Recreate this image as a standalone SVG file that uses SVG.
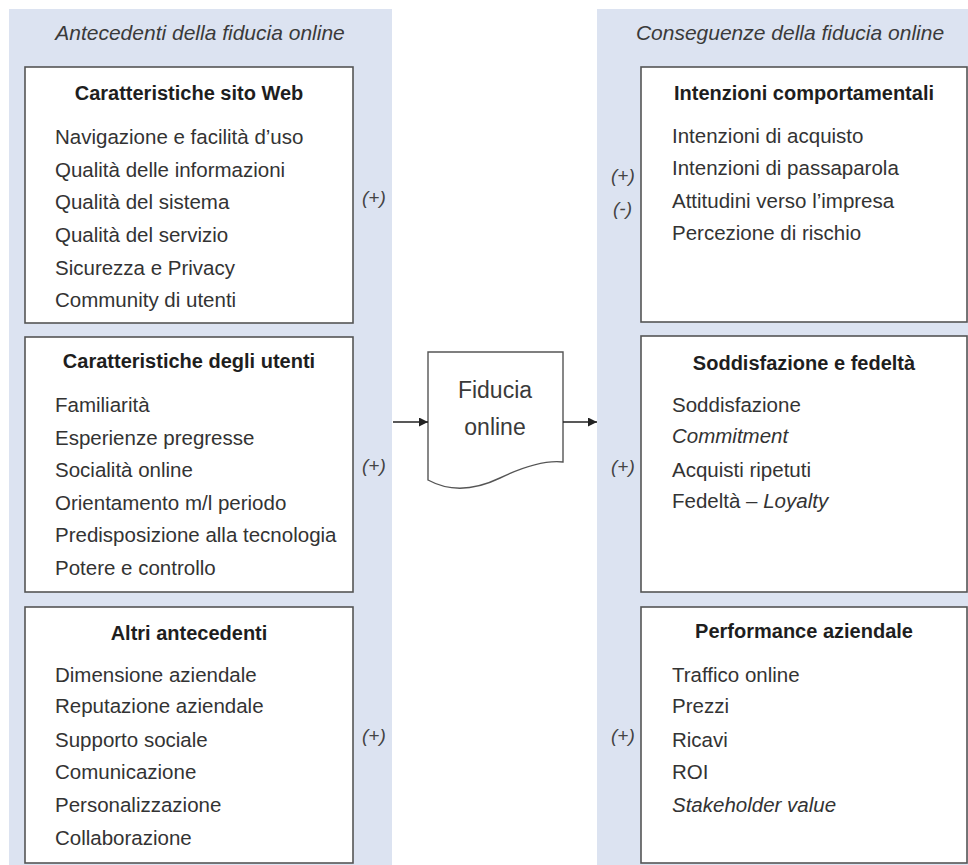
<svg xmlns="http://www.w3.org/2000/svg" width="968" height="865" viewBox="0 0 968 865">
  <defs>
    <marker id="arrow" viewBox="0 0 10 10" refX="10" refY="5" markerWidth="9" markerHeight="9" markerUnits="userSpaceOnUse" orient="auto">
      <path d="M0,0 L10,5 L0,10 Z" fill="#222"/>
    </marker>
    <style>
      text { font-family: "Liberation Sans", Arial, sans-serif; fill: #333; }
      .panel { fill: #dce3f1; }
      .box { fill: #ffffff; stroke: #555; stroke-width: 1.6; }
      .head { font-size: 21px; font-style: italic; fill: #3a3a3a; text-anchor: middle; }
      .title { font-size: 20px; font-weight: bold; fill: #1e1e1e; text-anchor: middle; }
      .item { font-size: 20.5px; }
      .sign { font-size: 19px; font-style: italic; fill: #444; }
      .doc { fill: #ffffff; stroke: #555; stroke-width: 1.4; }
      .doctext { font-size: 23px; text-anchor: middle; fill: #3a3a3a; }
      .conn { stroke: #222; stroke-width: 1.4; fill: none; marker-end: url(#arrow); }
    </style>
  </defs>

  <rect width="968" height="865" fill="#ffffff"/>

  <!-- background panels -->
  <rect class="panel" x="9" y="9" width="383" height="856"/>
  <rect class="panel" x="597" y="9" width="371" height="856"/>
  <text class="head" x="200" y="40">Antecedenti della fiducia online</text>
  <text class="head" x="790" y="40">Conseguenze della fiducia online</text>

  <!-- antecedents -->
  <g id="sito-web">
    <rect class="box" x="25" y="67" width="328" height="256"/>
    <text class="title" x="189" y="100">Caratteristiche sito Web</text>
    <text class="item" x="55" y="144">Navigazione e facilità d’uso</text>
    <text class="item" x="55" y="177">Qualità delle informazioni</text>
    <text class="item" x="55" y="209">Qualità del sistema</text>
    <text class="item" x="55" y="242">Qualità del servizio</text>
    <text class="item" x="55" y="275">Sicurezza e Privacy</text>
    <text class="item" x="55" y="307">Community di utenti</text>
    <text class="sign" x="362" y="204">(+)</text>
  </g>

  <g id="utenti">
    <rect class="box" x="25" y="337" width="328" height="255"/>
    <text class="title" x="189" y="368">Caratteristiche degli utenti</text>
    <text class="item" x="55" y="412">Familiarità</text>
    <text class="item" x="55" y="445">Esperienze pregresse</text>
    <text class="item" x="55" y="477">Socialità online</text>
    <text class="item" x="55" y="510">Orientamento m/l periodo</text>
    <text class="item" x="55" y="542">Predisposizione alla tecnologia</text>
    <text class="item" x="55" y="575">Potere e controllo</text>
    <text class="sign" x="362" y="472">(+)</text>
  </g>

  <g id="altri">
    <rect class="box" x="25" y="607" width="328" height="256"/>
    <text class="title" x="189" y="640">Altri antecedenti</text>
    <text class="item" x="55" y="682">Dimensione aziendale</text>
    <text class="item" x="55" y="713">Reputazione aziendale</text>
    <text class="item" x="55" y="747">Supporto sociale</text>
    <text class="item" x="55" y="779">Comunicazione</text>
    <text class="item" x="55" y="812">Personalizzazione</text>
    <text class="item" x="55" y="845">Collaborazione</text>
    <text class="sign" x="362" y="742">(+)</text>
  </g>

  <!-- central document -->
  <g id="fiducia">
    <path class="doc" d="M428,352 H563 V462 C545,460 525,466 500,478 C475,490 450,492 428,480 Z"/>
    <text class="doctext" x="495" y="398">Fiducia</text>
    <text class="doctext" x="495" y="435">online</text>
  </g>

  <!-- consequences -->
  <g id="intenzioni">
    <rect class="box" x="641" y="67" width="326" height="255"/>
    <text class="title" x="804" y="100">Intenzioni comportamentali</text>
    <text class="item" x="672" y="143">Intenzioni di acquisto</text>
    <text class="item" x="672" y="175">Intenzioni di passaparola</text>
    <text class="item" x="672" y="208">Attitudini verso l’impresa</text>
    <text class="item" x="672" y="240">Percezione di rischio</text>
    <text class="sign" x="611" y="182">(+)</text>
    <text class="sign" x="613" y="215">(-)</text>
  </g>

  <g id="soddisfazione">
    <rect class="box" x="641" y="336" width="326" height="256"/>
    <text class="title" x="804" y="370">Soddisfazione e fedeltà</text>
    <text class="item" x="672" y="412">Soddisfazione</text>
    <text class="item" x="672" y="443" font-style="italic">Commitment</text>
    <text class="item" x="672" y="477">Acquisti ripetuti</text>
    <text class="item" x="672" y="508">Fedeltà – <tspan font-style="italic">Loyalty</tspan></text>
    <text class="sign" x="611" y="473">(+)</text>
  </g>

  <g id="performance">
    <rect class="box" x="641" y="607" width="326" height="256"/>
    <text class="title" x="804" y="638">Performance aziendale</text>
    <text class="item" x="672" y="682">Traffico online</text>
    <text class="item" x="672" y="713">Prezzi</text>
    <text class="item" x="672" y="747">Ricavi</text>
    <text class="item" x="672" y="779">ROI</text>
    <text class="item" x="672" y="812" font-style="italic">Stakeholder value</text>
    <text class="sign" x="611" y="742">(+)</text>
  </g>

  <!-- connectors -->
  <g id="connectors">
    <line class="conn" x1="393" y1="422" x2="428" y2="422"/>
    <line class="conn" x1="563" y1="422" x2="597" y2="422"/>
  </g>
</svg>
